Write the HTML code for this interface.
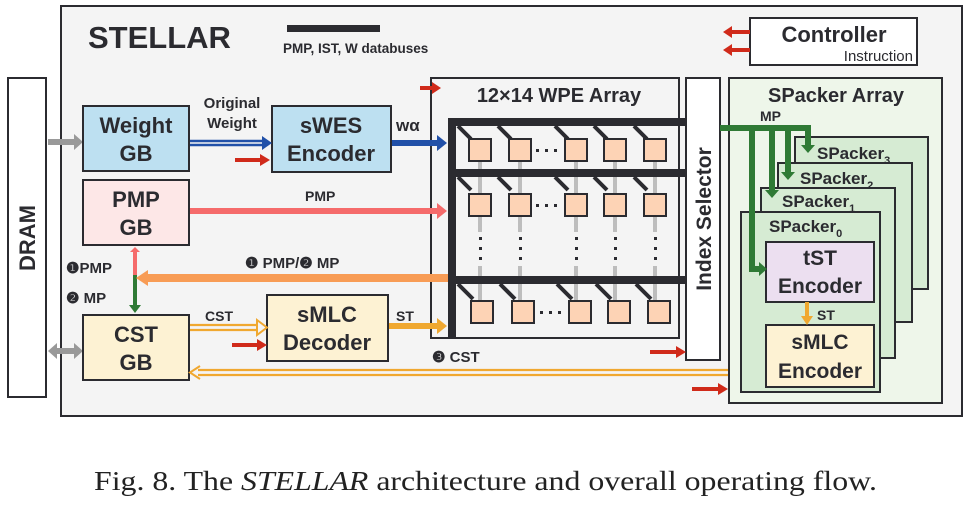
<!DOCTYPE html>
<html><head><meta charset="utf-8"><style>
html,body{margin:0;padding:0;background:#fff;}
svg{display:block;}
.s{font-family:"Liberation Sans",Arial,sans-serif;font-weight:bold;fill:#2b2b30;}
.cap{font-family:"Liberation Serif","Times New Roman",serif;font-weight:normal;fill:#222;}
</style></head><body>
<svg width="970" height="507" viewBox="0 0 970 507" xmlns="http://www.w3.org/2000/svg">
<!-- outer -->
<rect x="61" y="6" width="901" height="410" fill="#f4f4f4" stroke="#2b2b30" stroke-width="2"/>
<rect x="8" y="78" width="38" height="319" fill="#fff" stroke="#2b2b30" stroke-width="2"/>
<!-- WPE array box & index selector first -->
<rect x="431" y="78" width="248" height="260" fill="#f4f4f4" stroke="#2b2b30" stroke-width="2"/>
<rect x="686" y="78" width="34" height="282" fill="#fff" stroke="#2b2b30" stroke-width="2"/>
<g class="s">
<text x="0" y="0" font-size="22" transform="translate(35,238) rotate(-90)" text-anchor="middle">DRAM</text>
<text x="88" y="48" font-size="31">STELLAR</text>
<text x="283" y="53" font-size="13.5">PMP, IST, W databuses</text>
</g>
<rect x="287" y="25" width="93" height="7" fill="#2b2b30"/>
<!-- controller -->
<rect x="750" y="18" width="167" height="47" fill="#fff" stroke="#2b2b30" stroke-width="2"/>
<text class="s" x="834" y="42" font-size="22" text-anchor="middle">Controller</text>
<text x="913" y="61" font-size="15" text-anchor="end" style="font-family:'Liberation Sans',Arial,sans-serif;fill:#2b2b30">Instruction</text>
<g fill="#d02a1a">
<path d="M750,30 h-18 v-4 l-9,6 9,6 v-4 h18z"/>
<path d="M750,48 h-18 v-4 l-9,6 9,6 v-4 h18z"/>
</g>
<!-- gray DRAM arrows -->
<g fill="#999">
<path d="M48,139 h26 v-5 l9,8 -9,8 v-5 h-26z"/>
<path d="M57,348 h17 v-5 l9,8 -9,8 v-5 h-17 v5 l-9,-8 9,-8z"/>
</g>
<!-- GB boxes -->
<rect x="83" y="106" width="106" height="65" fill="#bde0f1" stroke="#2b2b30" stroke-width="2"/>
<rect x="83" y="180" width="106" height="65" fill="#fde7e7" stroke="#2b2b30" stroke-width="2"/>
<rect x="83" y="315" width="106" height="65" fill="#fdf2d3" stroke="#2b2b30" stroke-width="2"/>
<rect x="272" y="106" width="119" height="66" fill="#bde0f1" stroke="#2b2b30" stroke-width="2"/>
<rect x="267" y="295" width="121" height="66" fill="#fdf2d3" stroke="#2b2b30" stroke-width="2"/>
<g class="s" font-size="22" text-anchor="middle">
<text x="136" y="133">Weight</text><text x="136" y="161">GB</text>
<text x="136" y="207">PMP</text><text x="136" y="235">GB</text>
<text x="136" y="342">CST</text><text x="136" y="370">GB</text>
<text x="331" y="133">sWES</text><text x="331" y="161">Encoder</text>
<text x="327" y="322">sMLC</text><text x="327" y="350">Decoder</text>
</g>
<g class="s" font-size="15" text-anchor="middle">
<text x="232" y="108">Original</text>
<text x="232" y="128">Weight</text>
</g>
<path d="M190,141 h73 M190,145 h73" stroke="#2150a8" stroke-width="2.5"/>
<path d="M262,136 l10,7 -10,7z" fill="#2150a8"/>
<path d="M392,140 h45 v-5 l10,8 -10,8 v-5 h-45z" fill="#2150a8"/>
<text class="s" x="396" y="131" font-size="17">wα</text>
<!-- red small arrows -->
<g fill="#d02a1a">
<path d="M235,158 h25 v-4 l10,6 -10,6 v-4 h-25z"/>
<path d="M232,343 h25 v-4 l10,6 -10,6 v-4 h-25z"/>
<path d="M420,86 h12 v-4 l9,6 -9,6 v-4 h-12z"/>
<path d="M650,350 h26 v-4 l10,6 -10,6 v-4 h-26z"/>
<path d="M692,387 h26 v-4 l10,6 -10,6 v-4 h-26z"/>
</g>
<!-- PMP arrow -->
<path d="M190,208 h247 v-5 l10,8 -10,8 v-5 h-247z" fill="#f56b6b"/>
<text class="s" x="305" y="201" font-size="14">PMP</text>
<!-- vertical PMP/MP -->
<path d="M133,252 v23 h4 v-23 l3,0 -5,-5 -5,5z" fill="#f56b6b"/>
<path d="M133,275 v30 h-4 l6,8 6,-8 h-4 v-30z" fill="#2f7a35"/>
<!-- orange arrow -->
<rect x="146" y="274" width="302" height="8" fill="#f89c55"/>
<path d="M148,270 l-12,8 12,8z" fill="#f89c55"/>
<g class="s" font-size="15">
<text x="245" y="268">❶ PMP/❷ MP</text>
<text x="66" y="273">❶PMP</text>
<text x="66" y="303">❷ MP</text>
</g>
<path d="M190,325 h68 M190,330 h68" stroke="#f0a830" stroke-width="2.2"/>
<path d="M257,320 l10,7.5 -10,7.5z" fill="none" stroke="#f0a830" stroke-width="2"/>
<text class="s" x="205" y="321" font-size="14">CST</text>
<path d="M389,323 h48 v-5 l10,8 -10,8 v-5 h-48z" fill="#f0a830"/>
<text class="s" x="396" y="321" font-size="14">ST</text>
<!-- bottom return -->
<path d="M198,370 h568 M198,375 h568" stroke="#f0a830" stroke-width="2.2"/>
<path d="M200,366 l-10,6.5 10,6.5" fill="none" stroke="#f0a830" stroke-width="2"/>
<text class="s" x="432" y="362" font-size="15">❸ CST</text>
<!-- WPE contents -->
<text class="s" x="559" y="102" font-size="20" text-anchor="middle">12×14 WPE Array</text>
<g stroke="#bdbdbd" stroke-width="4">
<line x1="480" y1="160" x2="480" y2="300"/><line x1="520" y1="160" x2="520" y2="300"/>
<line x1="576" y1="160" x2="576" y2="300"/><line x1="615" y1="160" x2="615" y2="300"/>
<line x1="655" y1="160" x2="655" y2="300"/>
</g>
<rect x="474" y="232" width="190" height="34" fill="#f4f4f4"/>
<g fill="#2b2b30">
<rect x="448" y="118" width="239" height="8"/>
<rect x="448" y="169" width="239" height="8"/>
<rect x="448" y="276" width="239" height="8"/>
<rect x="448" y="118" width="8" height="220"/>
</g>
<g stroke="#2b2b30" stroke-width="4">
<path d="M458,126 l13,13 M498,126 l13,13 M555,126 l13,13 M594,126 l13,13 M634,126 l13,13"/>
<path d="M458,177 l13,13 M498,177 l13,13 M555,177 l13,13 M594,177 l13,13 M634,177 l13,13"/>
<path d="M458,284 l15,15 M500,284 l15,15 M557,284 l15,15 M596,284 l15,15 M636,284 l15,15"/>
</g>
<g fill="#fdd3b5" stroke="#2b2b30" stroke-width="2">
<rect x="469" y="139" width="22" height="22"/><rect x="509" y="139" width="22" height="22"/><rect x="565" y="139" width="22" height="22"/><rect x="604" y="139" width="22" height="22"/><rect x="644" y="139" width="22" height="22"/>
<rect x="469" y="194" width="22" height="22"/><rect x="509" y="194" width="22" height="22"/><rect x="565" y="194" width="22" height="22"/><rect x="604" y="194" width="22" height="22"/><rect x="644" y="194" width="22" height="22"/>
<rect x="471" y="301" width="22" height="22"/><rect x="512" y="301" width="22" height="22"/><rect x="569" y="301" width="22" height="22"/><rect x="608" y="301" width="22" height="22"/><rect x="648" y="301" width="22" height="22"/>
</g>
<g fill="#2b2b30">
<rect x="536" y="149" width="3" height="3"/><rect x="545" y="149" width="3" height="3"/><rect x="554" y="149" width="3" height="3"/>
<rect x="536" y="204" width="3" height="3"/><rect x="545" y="204" width="3" height="3"/><rect x="554" y="204" width="3" height="3"/>
<rect x="540" y="311" width="3" height="3"/><rect x="549" y="311" width="3" height="3"/><rect x="558" y="311" width="3" height="3"/>
<rect x="479" y="237" width="3" height="3"/><rect x="479" y="247" width="3" height="3"/><rect x="479" y="257" width="3" height="3"/>
<rect x="519" y="237" width="3" height="3"/><rect x="519" y="247" width="3" height="3"/><rect x="519" y="257" width="3" height="3"/>
<rect x="575" y="237" width="3" height="3"/><rect x="575" y="247" width="3" height="3"/><rect x="575" y="257" width="3" height="3"/>
<rect x="614" y="237" width="3" height="3"/><rect x="614" y="247" width="3" height="3"/><rect x="614" y="257" width="3" height="3"/>
<rect x="654" y="237" width="3" height="3"/><rect x="654" y="247" width="3" height="3"/><rect x="654" y="257" width="3" height="3"/>
</g>
<text class="s" x="0" y="0" font-size="21" transform="translate(711,219) rotate(-90)" text-anchor="middle">Index Selector</text>
<!-- SPacker array -->
<rect x="729" y="78" width="213" height="325" fill="#eef6ea" stroke="#2b2b30" stroke-width="2"/>
<text class="s" x="836" y="102" font-size="20" text-anchor="middle">SPacker Array</text>
<rect x="795" y="137" width="133" height="152" fill="#d6ebd3" stroke="#2b2b30" stroke-width="2"/>
<rect x="778" y="163" width="134" height="159" fill="#d6ebd3" stroke="#2b2b30" stroke-width="2"/>
<rect x="761" y="188" width="134" height="170" fill="#d6ebd3" stroke="#2b2b30" stroke-width="2"/>
<rect x="741" y="212" width="139" height="180" fill="#d6ebd3" stroke="#2b2b30" stroke-width="2"/>
<g class="s" font-size="17">
<text x="817" y="159">SPacker<tspan font-size="11" dy="5">3</tspan></text>
<text x="800" y="184">SPacker<tspan font-size="11" dy="5">2</tspan></text>
<text x="782" y="207">SPacker<tspan font-size="11" dy="5">1</tspan></text>
<text x="769" y="232">SPacker<tspan font-size="11" dy="5">0</tspan></text>
</g>
<rect x="766" y="242" width="108" height="60" fill="#ecdff0" stroke="#2b2b30" stroke-width="2"/>
<rect x="766" y="325" width="108" height="62" fill="#fdf2d3" stroke="#2b2b30" stroke-width="2"/>
<g class="s" font-size="21" text-anchor="middle">
<text x="820" y="265">tST</text><text x="820" y="293">Encoder</text>
<text x="820" y="349">sMLC</text><text x="820" y="378">Encoder</text>
</g>
<path d="M805,302 v14 h-4 l6,9 6,-9 h-4 v-14z" fill="#f0a830"/>
<text class="s" x="817" y="320" font-size="14">ST</text>
<!-- green MP -->
<g fill="#2f7a35">
<rect x="720" y="125" width="91" height="6"/>
<rect x="749" y="125" width="6" height="146"/>
<rect x="749" y="266" width="12" height="6"/>
<path d="M759,262 l8,7 -8,7z"/>
<rect x="769" y="125" width="6" height="66"/>
<path d="M765,190 l7,8 7,-8z"/>
<rect x="785" y="125" width="6" height="48"/>
<path d="M781,172 l7,8 7,-8z"/>
<rect x="805" y="125" width="6" height="21"/>
<path d="M801,145 l7,8 7,-8z"/>
</g>
<text class="s" x="760" y="121" font-size="14">MP</text>
<!-- caption -->
<text class="cap" x="94" y="490" font-size="27" textLength="783" lengthAdjust="spacingAndGlyphs">Fig. 8.  The <tspan font-style="italic">STELLAR</tspan> architecture and overall operating flow.</text>
</svg>
</body></html>
